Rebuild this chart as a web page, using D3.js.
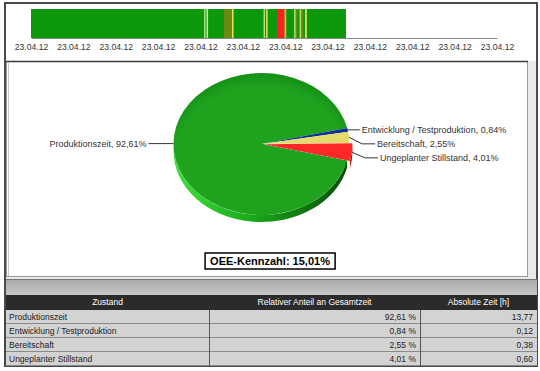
<!DOCTYPE html>
<html>
<head>
<meta charset="utf-8">
<script src="https://cdn.jsdelivr.net/npm/d3@7"></script>
<style>
  body { margin: 0; background: #fff; }
  svg { display: block; font-family: "Liberation Sans", Arial, sans-serif; }
</style>
</head>
<body>
<div id="chart"></div>
<script>
// states shown in the pie and the table
const states = ["Produktionszeit", "Entwicklung / Testproduktion", "Bereitschaft", "Ungeplanter Stillstand"];
const shares = [92.61, 0.84, 2.55, 4.01];       // percent of total time
const hours = [13.77, 0.12, 0.38, 0.60];        // absolute time [h]
const stateColors = ["#1f9f1f", "#10309a", "#e4dc6a", "#ff2828"];
const pieOrder = [1, 2, 3, 0];                  // drawing order clockwise from the right

const oeeValue = "15,01%";

// timeline (hours from start), tick labels every 2 h
const tickHours = [0, 2, 4, 6, 8, 10, 12, 14, 16, 18, 20, 22];
const tickLabels = ["23.04.12", "23.04.12", "23.04.12", "23.04.12", "23.04.12", "23.04.12",
  "23.04.12", "23.04.12", "23.04.12", "23.04.12", "23.04.12", "23.04.12"];
const segStart = [0, 8.17, 8.29, 9.11, 9.49, 10.98, 11.10, 11.61, 11.97, 12.42, 12.50, 12.68, 12.76, 12.94];
const segEnd = [14.87, 8.24, 8.36, 9.49, 9.56, 11.05, 11.17, 11.97, 12.05, 12.50, 12.58, 12.76, 12.86, 13.02];
const segKind = ["prod", "light", "pale", "olive", "yellow", "light", "yellow", "red", "orange",
  "light", "olive", "light", "olive", "yellow"];

const segColors = {
  prod: "#0b990b", light: "#b6de78", pale: "#d6efc6", olive: "#6c8a10",
  yellow: "#e6e65a", red: "#ff2020", orange: "#f0b040"
};

const width = 540, height = 371;

const svg = d3.select("#chart").append("svg")
  .attr("width", width).attr("height", height);

const defs = svg.append("defs");

drawFrame();
drawTimeline();
drawPie();
drawTable();

function drawFrame() {
  svg.append("rect").attr("x", 5).attr("y", 3).attr("width", 532).attr("height", 363)
    .attr("fill", "#e9e9e9").attr("stroke", "#4a4a4a").attr("stroke-width", 2);

  // timeline area
  svg.append("rect").attr("x", 6).attr("y", 4).attr("width", 530).attr("height", 57).attr("fill", "#fff");
  // chart panel
  svg.append("rect").attr("x", 6.5).attr("y", 61.5).attr("width", 521).attr("height", 215)
    .attr("fill", "#fff").attr("stroke", "#9a9a9a");
  svg.append("line").attr("x1", 6).attr("x2", 528).attr("y1", 61.5).attr("y2", 61.5)
    .attr("stroke", "#3a3a3a").attr("stroke-width", 1.5);
  svg.append("line").attr("x1", 8.5).attr("x2", 8.5).attr("y1", 62).attr("y2", 276)
    .attr("stroke", "#c8c8c8");

  // grey band above the table
  const g = defs.append("linearGradient").attr("id", "band").attr("x1", 0).attr("y1", 0).attr("x2", 0).attr("y2", 1);
  g.append("stop").attr("offset", "0%").attr("stop-color", "#a9a9a9");
  g.append("stop").attr("offset", "100%").attr("stop-color", "#c6c6c6");
  svg.append("rect").attr("x", 6).attr("y", 279).attr("width", 531).attr("height", 16).attr("fill", "url(#band)");
  svg.append("line").attr("x1", 6).attr("x2", 537).attr("y1", 279.5).attr("y2", 279.5).attr("stroke", "#777");
}

function drawTimeline() {
  const x = d3.scaleLinear().domain([0, 22]).range([31, 497]);

  const segs = segStart.map((s, i) => ({ start: s, end: segEnd[i], kind: segKind[i] }));

  svg.append("g").selectAll("rect")
    .data(segs)
    .join("rect")
    .attr("x", (d) => x(d.start))
    .attr("width", (d) => x(d.end) - x(d.start))
    .attr("y", 9)
    .attr("height", 29)
    .attr("fill", (d) => segColors[d.kind]);

  const axis = d3.axisBottom(x)
    .tickValues(tickHours)
    .tickFormat((d, i) => tickLabels[i])
    .tickSize(0)
    .tickPadding(6);

  const ax = svg.append("g").attr("transform", "translate(0,38)").call(axis);
  ax.select(".domain").attr("stroke", "#8a8a8a");
  ax.selectAll("text").attr("font-size", 8.6).attr("fill", "#333")
    .attr("font-family", "Liberation Sans, Arial, sans-serif");
}

function drawPie() {
  const cx = 261.5, cy = 144, rx = 88, ry = 71, depth = 7;
  const startA = 77 * Math.PI / 180;

  const pieData = pieOrder.map((i) => ({ name: states[i], value: shares[i], color: stateColors[i], idx: i }));

  const arcs = d3.pie()
    .sort(null)
    .value((d) => d.value)
    .startAngle(startA)
    .endAngle(startA + 2 * Math.PI)(pieData);

  const pt = (a, dx = 0, dy = 0) => [cx + rx * Math.sin(a) + dx, cy - ry * Math.cos(a) + dy];

  function topPath(a0, a1, dx, dy) {
    const p0 = pt(a0, dx, dy), p1 = pt(a1, dx, dy);
    const large = a1 - a0 > Math.PI ? 1 : 0;
    return `M${cx + dx},${cy + dy}L${p0}A${rx},${ry} 0 ${large} 1 ${p1}Z`;
  }

  function rimPath(a0, a1, dx, dy) {
    // front half only: angles between PI/2 and 3PI/2
    const b0 = Math.max(a0, Math.PI / 2), b1 = Math.min(a1, 3 * Math.PI / 2);
    if (b1 <= b0) return null;
    const p0 = pt(b0, dx, dy), p1 = pt(b1, dx, dy);
    const q0 = pt(b0, dx, dy + depth), q1 = pt(b1, dx, dy + depth);
    return `M${p0}A${rx},${ry} 0 0 1 ${p1}L${q1}A${rx},${ry} 0 0 0 ${q0}Z`;
  }

  const rimGrad = defs.append("linearGradient").attr("id", "rimGreen")
    .attr("gradientUnits", "userSpaceOnUse").attr("x1", cx - rx).attr("x2", cx + rx).attr("y1", 0).attr("y2", 0);
  rimGrad.append("stop").attr("offset", "0%").attr("stop-color", "#3fe23a");
  rimGrad.append("stop").attr("offset", "45%").attr("stop-color", "#1aa81a");
  rimGrad.append("stop").attr("offset", "100%").attr("stop-color", "#064a06");

  const topGrad = defs.append("radialGradient").attr("id", "topGreen")
    .attr("cx", "50%").attr("cy", "58%").attr("r", "60%");
  topGrad.append("stop").attr("offset", "80%").attr("stop-color", "#1fa31f");
  topGrad.append("stop").attr("offset", "100%").attr("stop-color", "#138a13");

  const rimColors = ["#064a06", "#0a1c66", "#a89e30", "#b01010"];
  const explode = (d) => (d.data.idx === 3 ? 3 : 0);
  const off = (d) => {
    const m = (d.startAngle + d.endAngle) / 2;
    return [explode(d) * Math.sin(m), -explode(d) * Math.cos(m)];
  };

  const pie = svg.append("g");

  // green body first
  const green = arcs.find((d) => d.data.idx === 0);
  pie.append("path").attr("d", rimPath(green.startAngle, green.endAngle, 0, 0)).attr("fill", "url(#rimGreen)");
  const gw0 = pt(green.startAngle);
  pie.append("path")
    .attr("d", `M${cx},${cy}L${gw0}L${gw0[0]},${gw0[1] + depth}L${cx},${cy + depth}Z`)
    .attr("fill", "#0c620c");
  pie.append("path").attr("d", topPath(green.startAngle, green.endAngle, 0, 0))
    .attr("fill", "url(#topGreen)");

  const small = arcs.filter((d) => d.data.idx !== 0);
  small.forEach((d) => {
    const [dx, dy] = off(d);
    const r = rimPath(d.startAngle, d.endAngle, dx, dy);
    if (r) pie.append("path").attr("d", r).attr("fill", rimColors[d.data.idx]);
    pie.append("path").attr("d", topPath(d.startAngle, d.endAngle, dx, dy))
      .attr("fill", d.data.color);
  });

  // labels
  const fmt = (v) => d3.format(".2f")(v).replace(".", ",") + "%";
  const labels = arcs.map((d) => {
    const m = (d.startAngle + d.endAngle) / 2;
    const [dx, dy] = off(d);
    const p = pt(m, dx, dy);
    return { d, m, p, right: Math.sin(m) > 0, y: p[1] };
  });

  // simple spacing on the right side
  const rightLabels = labels.filter((l) => l.right).sort((a, b) => a.y - b.y);
  rightLabels.forEach((l, i) => {
    if (i > 0) l.y = Math.max(l.y, rightLabels[i - 1].y + 14);
  });

  const lg = svg.append("g").attr("font-size", 9).attr("fill", "#333");
  labels.forEach((l, i) => {
    let pts, tx, anchor;
    if (l.right) {
      const elbow = l.y - l.p[1] > 2 ? 13 : 0;
      pts = [[l.p[0], l.p[1]], [l.p[0] + elbow, l.y], [l.p[0] + (elbow ? 26 : 12), l.y]];
      tx = pts[2][0] + 2;
      anchor = "start";
    } else {
      pts = [[l.p[0], l.p[1]], [l.p[0] - 25, l.y]];
      tx = pts[1][0] - 2;
      anchor = "end";
    }
    lg.append("path").attr("d", d3.line()(pts)).attr("fill", "none").attr("stroke", "#333").attr("stroke-width", 1);
    lg.append("text").attr("x", tx).attr("y", l.y).attr("dy", "0.35em").attr("text-anchor", anchor)
      .text(`${l.d.data.name}, ${fmt(l.d.data.value)}`);
  });

  // OEE box
  const box = svg.append("g").attr("transform", "translate(270,261)");
  const t = box.append("text").attr("text-anchor", "middle").attr("dy", "0.36em")
    .attr("font-size", 11).attr("font-weight", "bold").attr("fill", "#000")
    .text("OEE-Kennzahl: " + oeeValue);
  const bb = t.node().getBBox();
  box.insert("rect", "text").attr("x", bb.x - 5).attr("y", -8).attr("width", bb.width + 10).attr("height", 16)
    .attr("fill", "#fff").attr("stroke", "#000").attr("stroke-width", 1.5);
}

function drawTable() {
  const cols = [6, 209, 420, 537];
  const headers = ["Zustand", "Relativer Anteil an Gesamtzeit", "Absolute Zeit [h]"];
  const top = 295, headH = 15, rowH = 14;

  svg.append("rect").attr("x", cols[0]).attr("y", top).attr("width", cols[3] - cols[0]).attr("height", headH)
    .attr("fill", "#2b2b2b");
  svg.append("g").selectAll("text")
    .data(headers)
    .join("text")
    .attr("x", (d, i) => (cols[i] + cols[i + 1]) / 2)
    .attr("y", top + headH / 2)
    .attr("dy", "0.35em")
    .attr("text-anchor", "middle")
    .attr("font-size", 8.5)
    .attr("fill", "#fff")
    .text((d) => d);

  const fmt2 = (v) => d3.format(".2f")(v).replace(".", ",");
  const rows = states.map((s, i) => [s, fmt2(shares[i]) + " %", fmt2(hours[i])]);

  const body = svg.append("g").attr("transform", `translate(0,${top + headH})`);
  const tr = body.selectAll("g").data(rows).join("g")
    .attr("transform", (d, i) => `translate(0,${i * rowH})`);

  tr.append("rect").attr("x", cols[0]).attr("width", cols[3] - cols[0]).attr("height", rowH)
    .attr("fill", "#d3d3d3");
  tr.append("line").attr("x1", cols[0]).attr("x2", cols[3]).attr("y1", rowH - 0.5).attr("y2", rowH - 0.5)
    .attr("stroke", "#8a8a8a");
  tr.selectAll("text").data((d) => d).join("text")
    .attr("x", (d, j) => (j === 0 ? cols[0] + 3 : cols[j + 1] - 4))
    .attr("y", rowH / 2)
    .attr("dy", "0.35em")
    .attr("text-anchor", (d, j) => (j === 0 ? "start" : "end"))
    .attr("font-size", 8.5)
    .attr("fill", "#222")
    .text((d) => d);

  body.selectAll("line.col").data([cols[1], cols[2]]).join("line").attr("class", "col")
    .attr("x1", (d) => d + 0.5).attr("x2", (d) => d + 0.5).attr("y1", 0).attr("y2", rows.length * rowH)
    .attr("stroke", "#555");
}
</script>
</body>
</html>
